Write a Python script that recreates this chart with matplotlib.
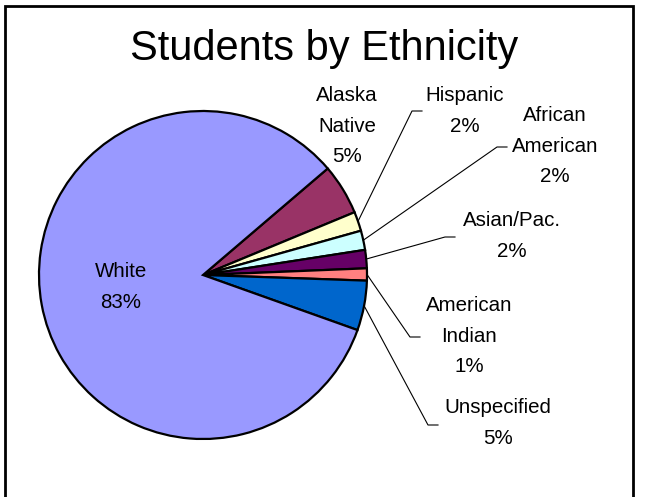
import numpy as np
import matplotlib.pyplot as plt
from matplotlib.patches import Rectangle

plt.rcParams['font.family'] = ['Liberation Sans', 'DejaVu Sans']

# data (clockwise from the top right)
groups = ['Alaska\nNative', 'Hispanic', 'African\nAmerican', 'Asian/Pac.',
          'American\nIndian', 'Unspecified', 'White']
shares = [5.0, 1.9, 1.9, 1.8, 1.2, 4.9, 83.3]
colors = ['#993366', '#FFFFCC', '#CCFFFF', '#660066', '#FF8080', '#0066CC', '#9999FF']

W, H = 645, 497
fig = plt.figure(figsize=(W / 100, H / 100), dpi=100)
ax = fig.add_axes([0, 0, 1, 1])

cx, cy, r = 203, H - 275, 164
wedges, _ = ax.pie(shares, colors=colors, startangle=40.5, counterclock=False,
                   center=(cx, cy), radius=r,
                   wedgeprops=dict(edgecolor='black', linewidth=1.6))
ax.set_xlim(0, W)
ax.set_ylim(0, H)
ax.set_aspect('equal')
ax.axis('off')

# label block centres and leader elbows (pixels from top left)
label_pos = [(347, 126), (465, 111), (555, 146), (512, 236), (469, 336), (498, 423), (121, 287)]
elbows = [None, (412, 111), (497, 147), (445, 237), (410, 337), (428, 425), None]

for w, name, val, (lx, ly), elb in zip(wedges, groups, shares, label_pos, elbows):
    txt = f'{name}\n{round(val):d}%'
    ax.text(lx, H - ly, txt, ha='center', va='center', fontsize=14.8,
            linespacing=1.75, multialignment='center')
    if elb is not None:
        mid = np.deg2rad((w.theta1 + w.theta2) / 2)
        px, py = cx + r * np.cos(mid), cy + r * np.sin(mid)
        ex, ey = elb[0], H - elb[1]
        ax.plot([px, ex, ex + 10], [py, ey, ey], color='black', lw=0.8)

fig.text(324 / W, 1 - 49 / H, 'Students by Ethnicity', ha='center', va='center',
         fontsize=30)

fig.patches.append(Rectangle((5 / W, -0.05), 628 / W, 1.05 - 6 / H,
                             transform=fig.transFigure, fill=False,
                             edgecolor='black', linewidth=2))

fig.savefig('out.png', dpi=100, facecolor='white')
